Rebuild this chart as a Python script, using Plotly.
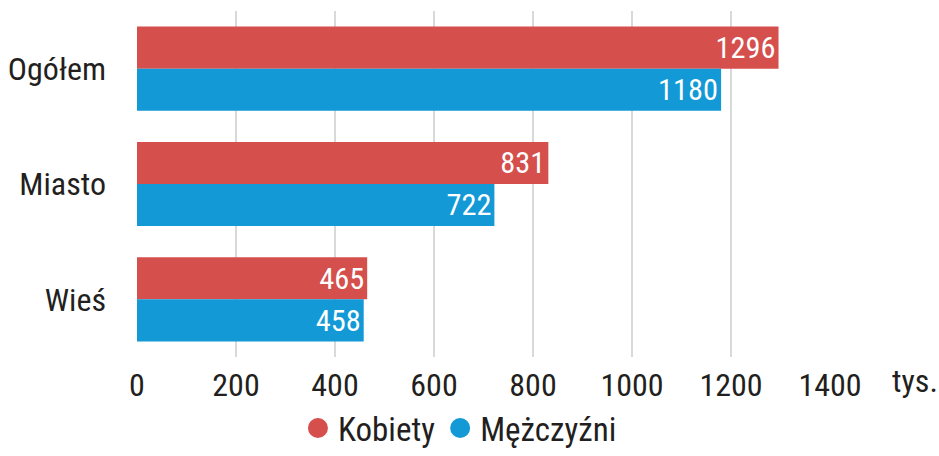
import plotly.graph_objects as go

categories = ["Ogółem", "Miasto", "Wieś"]
kobiety = [1296, 831, 465]
mezczyzni = [1180, 722, 458]
series_names = ["Kobiety", "Mężczyźni"]
x_ticks = [0, 200, 400, 600, 800, 1000, 1200, 1400]
unit_label = "tys."

FONT = "Roboto Condensed, Liberation Sans Narrow, DejaVu Sans Condensed, Roboto, sans-serif"
RED = "#d54f4c"
BLUE = "#1399d6"
TXT = "#231f20"

fig = go.Figure()
for name, vals, col in [(series_names[0], kobiety, RED), (series_names[1], mezczyzni, BLUE)]:
    fig.add_trace(go.Bar(
        y=categories, x=vals, name=name, orientation="h",
        marker=dict(color=col, line=dict(width=0)),
        text=[str(v) for v in vals], textposition="inside", insidetextanchor="end",
        textfont=dict(color="white", size=32, family=FONT),
        showlegend=False,
    ))
# legend entries with round markers
for name, col in [(series_names[0], RED), (series_names[1], BLUE)]:
    fig.add_trace(go.Scatter(
        x=[None], y=[None], mode="markers", name=name,
        marker=dict(symbol="circle", size=24, color=col, line=dict(width=4, color=col)),
    ))

fig.update_layout(
    width=939, height=456,
    margin=dict(l=137, r=109, t=11, b=99, autoexpand=False),
    barmode="group", bargap=0.27, bargroupgap=0,
    plot_bgcolor="white", paper_bgcolor="white",
    font=dict(family=FONT, size=32, color=TXT),
    uniformtext=dict(minsize=10, mode="show"),
    xaxis=dict(range=[0, 1400], tickvals=x_ticks, showgrid=True, gridcolor="#d9d9d9",
               gridwidth=2, zeroline=False, showline=False, ticks="", automargin=False,
               tickfont=dict(size=32, family=FONT, color=TXT), ticklabelstandoff=6),
    yaxis=dict(autorange="reversed", showgrid=False, zeroline=False, showline=False,
               ticks="", automargin=False, tickfont=dict(size=32, family=FONT, color=TXT),
               ticklabelstandoff=30),
    legend=dict(orientation="h", x=0.466, xanchor="center", y=(357 - 456) / 346,
                yanchor="bottom", font=dict(size=33, family=FONT, color=TXT), itemwidth=30),
    showlegend=True,
)
fig.add_annotation(text=unit_label, xref="paper", yref="paper", x=(915 - 137) / 693,
                   y=(357 - 381) / 346, xanchor="center", yanchor="middle", showarrow=False,
                   font=dict(size=32, family=FONT, color=TXT))

fig.write_html("out.html", config={"displayModeBar": False},
               post_script="document.body.style.margin='0';")
